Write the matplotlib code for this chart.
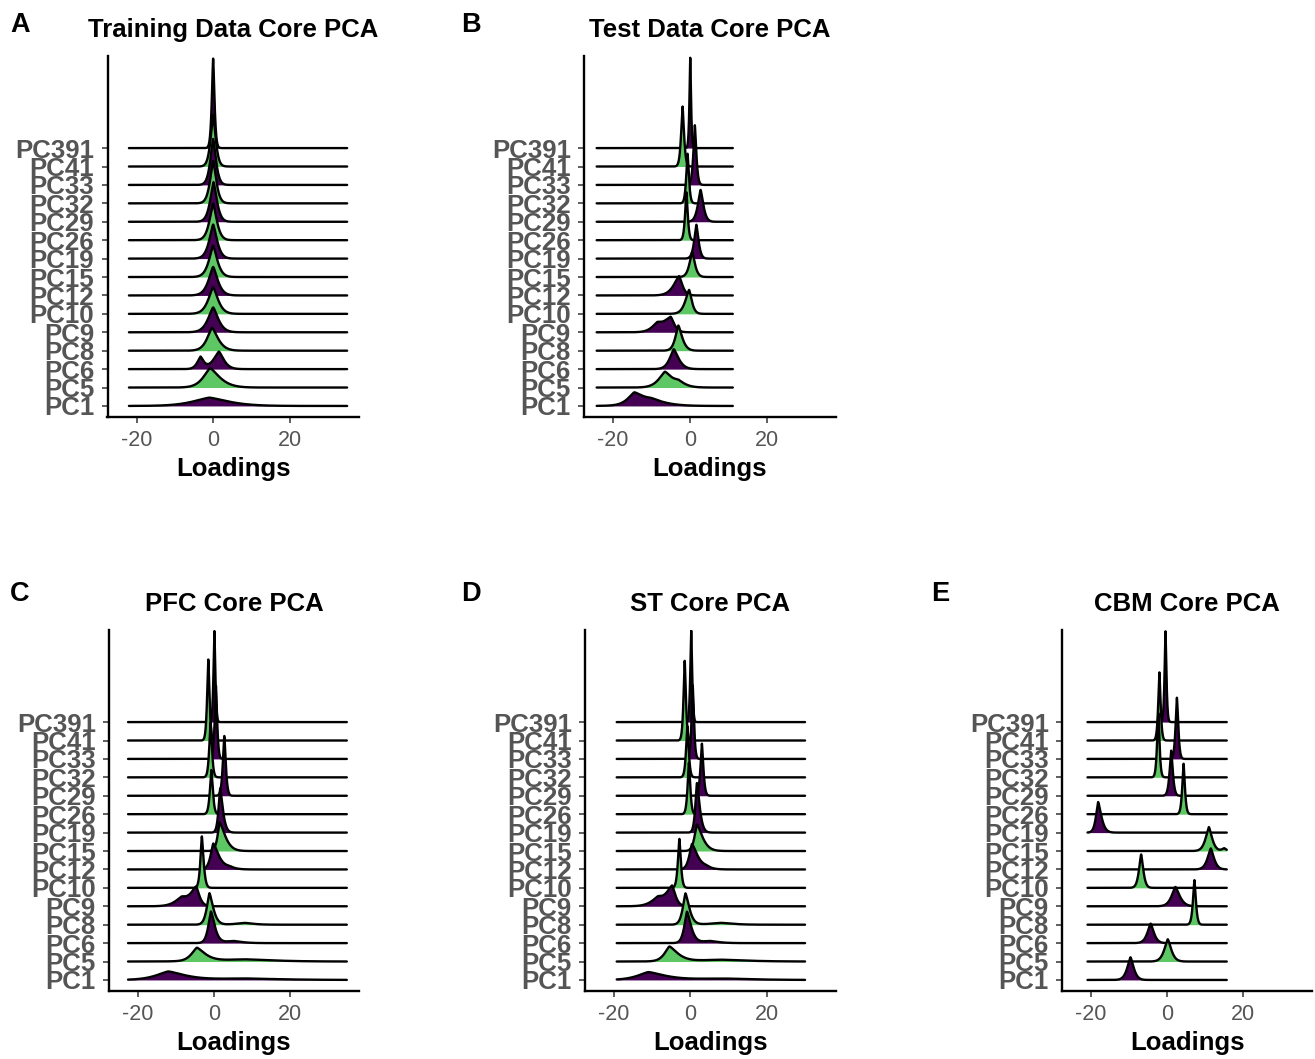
import numpy as np
import matplotlib
matplotlib.use("Agg")
import matplotlib.pyplot as plt

plt.rcParams['font.family'] = ['Liberation Sans', 'DejaVu Sans']

# ---------------- data ----------------
pcs = ["PC1", "PC5", "PC6", "PC8", "PC9", "PC10", "PC12", "PC15", "PC19",
       "PC26", "PC29", "PC32", "PC33", "PC41", "PC391"]
panels = ["A", "B", "C", "D", "E"]
titles = ["Training Data Core PCA", "Test Data Core PCA", "PFC Core PCA",
          "ST Core PCA", "CBM Core PCA"]
x_ticks = [-20, 0, 20]
x_tick_labels = ["-20", "0", "20"]

# loading range (min, max) covered by the ridges of each panel
data_range = {"A": (-22.0, 35.0), "B": (-24.3, 11.2), "C": (-22.6, 34.9),
              "D": (-19.3, 30.0), "E": (-20.9, 15.7)}

# main mode of each ridge: location, height (in rows), left / right spread
peak_x = {
    "A": [-1.0, -0.8, 1.5, -0.3, 0.0, 0.0, 0.0, 0.0, 0.0, 0.0, 0.1, 0.0, 0.0, 0.0, 0.0],
    "B": [-14.5, -6.5, -4.2, -3.0, -5.0, -0.2, -2.8, 0.6, 1.7, -0.9, 2.8, -0.6, 1.3, -1.9, 0.1],
    "C": [-12.0, -4.5, -0.8, -1.2, -4.7, -3.2, -0.2, 1.5, 1.6, -0.7, 2.7, -0.9, 0.5, -1.5, 0.1],
    "D": [-11.0, -5.5, -0.9, -1.3, -4.8, -2.9, 0.4, 1.7, 1.7, -0.4, 3.0, -0.8, 0.6, -1.5, 0.2],
    "E": [-9.6, 0.2, -4.3, 7.2, 2.2, -6.8, 11.5, 11.0, -18.1, 4.35, 1.1, -2.3, 2.6, -2.0, -0.4],
}
peak_h = {
    "A": [0.45, 1.05, 0.95, 1.25, 1.35, 1.45, 1.55, 1.7, 1.85, 2.0, 2.15, 2.3, 2.5, 2.8, 4.9],
    "B": [0.6, 0.8, 1.08, 1.37, 0.8, 1.3, 1.05, 1.35, 1.84, 2.6, 1.73, 2.7, 3.24, 3.26, 4.93],
    "C": [0.45, 0.72, 1.71, 1.71, 1.0, 2.8, 1.4, 1.55, 2.4, 2.4, 3.27, 3.0, 4.0, 4.4, 4.97],
    "D": [0.42, 0.8, 1.7, 1.7, 1.05, 2.67, 1.37, 1.45, 2.7, 2.8, 2.83, 2.8, 4.0, 4.34, 4.97],
    "E": [1.23, 1.21, 1.06, 2.42, 1.05, 1.82, 1.14, 1.3, 1.66, 2.74, 2.45, 3.5, 3.34, 3.7, 4.96],
}
spread_left = {
    "A": [6.0, 2.5, 2.0, 1.8, 1.9, 1.8, 1.7, 1.55, 1.45, 1.35, 1.25, 1.15, 1.05, 0.95, 0.5],
    "B": [2.3, 2.3, 1.5, 1.1, 2.5, 1.4, 2.0, 1.0, 0.8, 0.5, 1.0, 0.5, 0.55, 0.55, 0.3],
    "C": [4.5, 2.0, 1.0, 1.0, 2.0, 0.55, 1.0, 0.8, 0.6, 0.55, 0.55, 0.5, 0.45, 0.45, 0.35],
    "D": [4.0, 1.8, 1.0, 1.0, 2.0, 0.55, 1.0, 0.9, 0.6, 0.5, 0.55, 0.5, 0.45, 0.45, 0.35],
    "E": [1.2, 1.3, 1.2, 0.55, 1.4, 0.8, 1.2, 1.2, 0.8, 0.5, 0.6, 0.45, 0.5, 0.45, 0.35],
}
spread_right = {
    "A": [7.0, 3.5, 1.8, 2.2, 1.9, 1.8, 1.7, 1.55, 1.45, 1.35, 1.25, 1.15, 1.05, 0.95, 0.5],
    "B": [3.0, 2.3, 1.8, 1.4, 1.3, 1.0, 1.2, 1.0, 0.8, 0.5, 1.0, 0.5, 0.55, 0.55, 0.3],
    "C": [6.0, 3.0, 1.4, 1.4, 1.2, 0.65, 2.0, 2.0, 1.0, 0.55, 0.55, 0.5, 0.45, 0.45, 0.35],
    "D": [6.0, 3.0, 1.5, 1.4, 1.2, 0.55, 2.0, 2.0, 1.0, 0.5, 0.55, 0.5, 0.45, 0.45, 0.35],
    "E": [1.2, 1.3, 1.2, 0.55, 1.6, 0.8, 1.2, 1.2, 1.2, 0.5, 0.6, 0.45, 0.5, 0.45, 0.35],
}
# secondary bump / tail of each ridge (height 0 = none)
bump_x = {
    "A": [0, 0, -3.3, 0, 0, 0, 0, 0, 0, 0, 0, 0, 0, 0, 0],
    "B": [-10.0, -3.0, 0, 0, -8.5, 0, 0, 0, 0, 0, 0, 0, 0, 0, 0],
    "C": [8.0, 8.0, 5.0, 8.0, -8.5, 0, 4.0, 0, 0, 0, 0, 0, 0, 0, 0],
    "D": [8.0, 8.0, 5.0, 8.0, -8.5, 0, 4.0, 0, 0, 0, 0, 0, 0, 0, 0],
    "E": [0, 0, 0, 0, 0, 0, 0, 15.0, 0, 0, 0, 0, 0, 0, 0],
}
bump_h = {
    "A": [0, 0, 0.65, 0, 0, 0, 0, 0, 0, 0, 0, 0, 0, 0, 0],
    "B": [0.33, 0.3, 0, 0, 0.4, 0, 0, 0, 0, 0, 0, 0, 0, 0, 0],
    "C": [0.08, 0.12, 0.12, 0.1, 0.45, 0, 0.12, 0, 0, 0, 0, 0, 0, 0, 0],
    "D": [0.08, 0.1, 0.12, 0.1, 0.45, 0, 0.12, 0, 0, 0, 0, 0, 0, 0, 0],
    "E": [0, 0, 0, 0, 0, 0, 0, 0.15, 0, 0, 0, 0, 0, 0, 0],
}
bump_w = {
    "A": [1, 1, 1.2, 1, 1, 1, 1, 1, 1, 1, 1, 1, 1, 1, 1],
    "B": [5.0, 2.5, 1, 1, 2.0, 1, 1, 1, 1, 1, 1, 1, 1, 1, 1],
    "C": [12.0, 10.0, 3.0, 3.0, 2.5, 1, 2.0, 1, 1, 1, 1, 1, 1, 1, 1],
    "D": [10.0, 9.0, 3.0, 4.0, 2.5, 1, 2.0, 1, 1, 1, 1, 1, 1, 1, 1],
    "E": [1, 1, 1, 1, 1, 1, 1, 0.8, 1, 1, 1, 1, 1, 1, 1],
}

fill_colors = ["#440154", "#5DC863"]

# ---------------- layout (pixels) ----------------
W, H = 1315, 1059
boxes = {"A": (107.5, 359, 56, 417), "B": (584, 836, 56, 417),
         "C": (109, 359, 630, 991), "D": (585, 836, 630, 991),
         "E": (1062, 1312, 630, 991)}
letter_pos = {"A": (10, 32), "B": (461, 32), "C": (10, 601), "D": (461, 601),
              "E": (931, 601)}

fig = plt.figure(figsize=(W / 100, H / 100), dpi=100)
SHAPE = 1.4


def ridge(x, c, h, wl, wr, c2, h2, w2):
    w = np.where(x < c, wl, wr)
    y = h * np.exp(-(np.abs(x - c) / w) ** SHAPE)
    if h2 > 0:
        y = y + h2 * np.exp(-(np.abs(x - c2) / w2) ** SHAPE)
    return y


for key, title in zip(panels, titles):
    l, r, t, b = boxes[key]
    ax = fig.add_axes([l / W, 1 - b / H, (r - l) / W, (b - t) / H])
    x0, x1 = data_range[key]
    xs = np.linspace(x0, x1, 1500)
    n = len(pcs)
    z = 1
    for i in range(n - 1, -1, -1):
        base = i + 1
        y = ridge(xs, peak_x[key][i], peak_h[key][i], spread_left[key][i],
                  spread_right[key][i], bump_x[key][i], bump_h[key][i], bump_w[key][i])
        ax.fill_between(xs, base, base + y, color=fill_colors[i % 2],
                        linewidth=0, zorder=z)
        ax.plot(xs, base + y, color="black", lw=1.7, zorder=z + 0.5,
                solid_joinstyle="round", solid_capstyle="round")
        z += 1
    ax.set_xlim(-27.6, 38.1)
    ax.set_ylim(0.4, 20.0)
    ax.set_yticks(range(1, n + 1))
    ax.set_yticklabels(pcs, fontsize=18.6, fontweight="bold", color="#555555")
    ax.set_xticks(x_ticks)
    ax.set_xticklabels(x_tick_labels, fontsize=15.5, color="#555555")
    ax.tick_params(axis="both", length=4.5, width=1.1, color="#333333", pad=5)
    ax.tick_params(axis="x", pad=5)
    for s in ["top", "right"]:
        ax.spines[s].set_visible(False)
    for s in ["left", "bottom"]:
        ax.spines[s].set_linewidth(1.7)
        ax.spines[s].set_zorder(100)
    ax.set_title(title, fontsize=18.5, fontweight="bold", pad=14)
    ax.set_xlabel("Loadings", fontsize=18.5, fontweight="bold", labelpad=4)
    lx, ly = letter_pos[key]
    fig.text(lx / W, 1 - ly / H, key, fontsize=19.5, fontweight="bold",
             ha="left", va="baseline")

fig.savefig("out.png", dpi=100)
